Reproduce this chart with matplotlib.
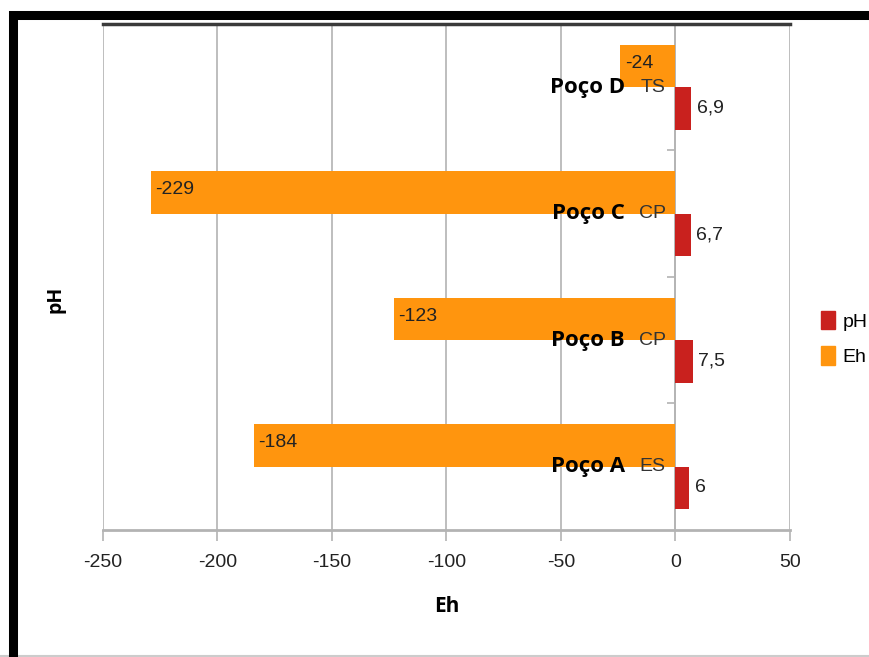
import matplotlib
matplotlib.use("Agg")
import matplotlib.pyplot as plt
from matplotlib.patches import Rectangle, Patch
import numpy as np

# Data (bottom to top)
wells = ["Poço A", "Poço B", "Poço C", "Poço D"]
zones = ["ES", "CP", "CP", "TS"]
eh_values = [-184, -123, -229, -24]
ph_values = [6.0, 7.5, 6.7, 6.9]
x_ticks = [-250, -200, -150, -100, -50, 0, 50]

ORANGE = "#FF950E"
RED = "#C9211E"
GRID = "#B3B3B3"
TEXT = "#222222"
NARROW = ["Liberation Sans", "DejaVu Sans"]
BOLD = ["Open Sans", "DejaVu Sans"]

plt.rcParams["axes.unicode_minus"] = False

fig = plt.figure(figsize=(8.69, 6.57), dpi=100)
ax = fig.add_axes([0.1185, 0.1933, 0.7905, 0.7702])

y = np.arange(len(wells))
h = 0.335
ax.barh(y + h / 2, eh_values, height=h, color=ORANGE, zorder=3, label="Eh")
ax.barh(y - h / 2, ph_values, height=h, color=RED, zorder=3, label="pH")

ax.set_xlim(-250, 50)
ax.set_ylim(-0.5, len(wells) - 0.5)

ax.set_xticks(x_ticks)
ax.set_xticklabels([str(v) for v in x_ticks], family=NARROW, fontsize=14, color=TEXT)
ax.tick_params(axis="x", length=8, color=GRID, width=1.2, pad=9)
ax.grid(axis="x", color=GRID, linewidth=1.2, zorder=0)

# category axis crossing at zero
ax.spines["left"].set_position(("data", 0))
ax.spines["left"].set_color(GRID)
ax.spines["left"].set_linewidth(1.2)
ax.set_yticks(np.arange(len(wells) - 1) + 0.5)
ax.set_yticklabels([])
ax.tick_params(axis="y", length=6, color=GRID, width=1.2)
ax.spines["right"].set_visible(False)
ax.spines["bottom"].set_color(GRID)
ax.spines["bottom"].set_linewidth(2)
ax.spines["top"].set_color("#3a3a3a")
ax.spines["top"].set_linewidth(2.5)

for i in range(len(wells)):
    ax.annotate(zones[i], (0, y[i]), xytext=(-7, 0), textcoords="offset points",
                ha="right", va="center", family=NARROW, fontsize=14, color="#333333",
                zorder=5)
    ax.text(-22, y[i], wells[i], ha="right", va="center", fontsize=16,
            fontweight="bold", family=BOLD, color="black", zorder=6)
    ax.annotate(str(eh_values[i]), (eh_values[i], y[i] + h / 2), xytext=(3, 2),
                textcoords="offset points", ha="left", va="center", family=NARROW,
                fontsize=14, color=TEXT, zorder=5)
    ax.annotate(f"{ph_values[i]:g}".replace(".", ","), (ph_values[i], y[i] - h / 2),
                xytext=(4, 0), textcoords="offset points", ha="left", va="center",
                family=NARROW, fontsize=14, color=TEXT, zorder=5)

ax.set_xlabel("Eh", family=BOLD, fontsize=15, fontweight="bold", labelpad=18)
fig.text(0.064, 0.545, "pH", rotation=90, ha="center", va="center", fontsize=14,
         fontweight="bold", family=BOLD)

handles = [Patch(color=RED, label="pH"), Patch(color=ORANGE, label="Eh")]
fig.legend(handles=handles, loc="center left", bbox_to_anchor=(0.925, 0.485),
           frameon=False, handlelength=0.7, handleheight=1.1, handletextpad=0.4,
           labelspacing=0.8, prop={"family": NARROW, "size": 14})

# outer frame: black band on the left, top and right
fig.patches.append(Rectangle((12.5 / 869, -0.5), 1.2, 1.5 - 14.5 / 657,
                             transform=fig.transFigure, fill=False,
                             edgecolor="black", linewidth=6.5, zorder=10))
fig.patches.append(Rectangle((0, 1 / 657), 1, 0, transform=fig.transFigure,
                             fill=False, edgecolor="#cccccc", linewidth=1.5, zorder=9))

fig.savefig("out.png", dpi=100)
